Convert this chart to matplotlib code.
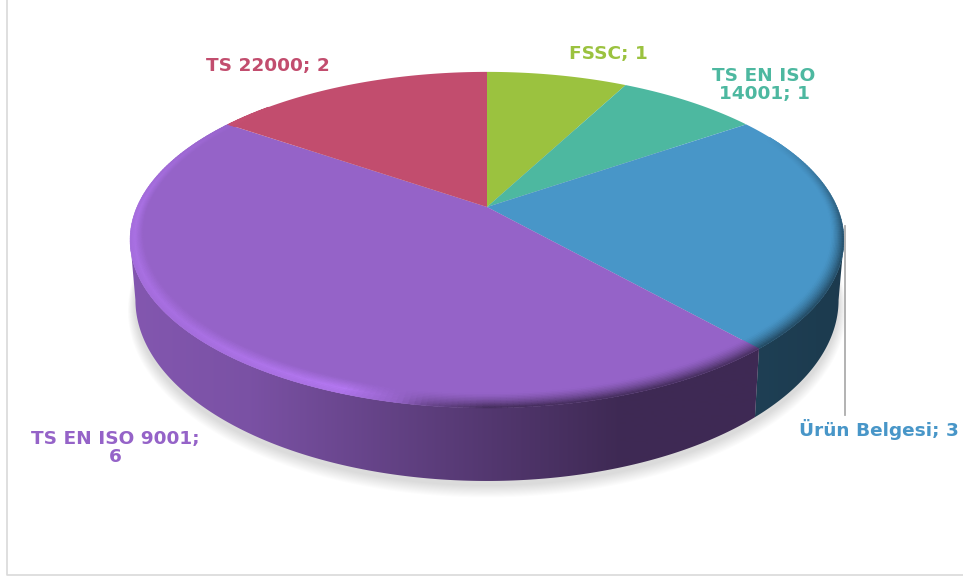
# coding=utf-8
import numpy as np
import matplotlib
matplotlib.use("Agg")
import matplotlib.pyplot as plt
from matplotlib.collections import PolyCollection
from matplotlib.patches import Polygon

names = ["FSSC", "TS EN ISO 14001", "Ürün Belgesi", "TS EN ISO 9001", "TS 22000"]
counts = [1, 1, 3, 6, 2]
colors = ["#9BC23F", "#4DB8A0", "#4896C8", "#9563C8", "#C24D6E"]
label_text = ["FSSC; 1", "TS EN ISO\n14001; 1", "Ürün Belgesi; 3", "TS EN ISO 9001;\n6", "TS 22000; 2"]
label_xy = [(608, 54), (764, 85), (879, 429), (115, 448), (268, 66)]

# perspective of the disc
CX, CY = 487, 207
R, B, K = 350, 161.6, 0.196
SIDE_FROM, SIDE_TO = np.radians(101.3), np.radians(258.7)


def top_xy(theta, r=1.0):
    u = r * np.sin(theta)
    v = r * np.cos(theta)
    d = 1 + K * v
    return CX + R * u / d, CY - B * v / d


def bottom_xy(theta):
    x, y = top_xy(theta)
    return CX + (x - CX) * 0.985, CY + 57.5 + (y - CY) * 1.077


def rgb(c):
    return np.array(matplotlib.colors.to_rgb(c))


def side_shade(x):
    return np.interp(x, [130, 250, 450, 620, 760, 845], [0.88, 0.82, 0.6, 0.42, 0.42, 0.39])


def rim_amount(deg):
    return np.interp(deg, [0, 62, 85, 100, 180, 188, 200, 230, 270, 300, 315, 360],
                     [0, 0, -0.5, -0.8, -0.95, -0.5, 0.95, 0.6, 0.65, 0.2, 0, 0])


def rim_profile(t, amt):
    # the highlight peaks inside the band, the dark edge grows outwards
    if amt > 0:
        return np.interp(t, [0, 0.65, 1], [0, 1, 0.75])
    return t ** 1.5


def rim_radius(theta, t):
    inner = 1 - 0.03 - 0.03 * np.clip(-np.cos(theta), 0, 1)
    return inner + t * (1 - inner)


fig = plt.figure(figsize=(9.63, 5.79), dpi=100)
ax = fig.add_axes([0, 0, 1, 1])
ax.axis("off")

# chart frame
ax.plot([7, 7, 963], [0, 575, 575], color="#D9D9D9", lw=1.2, zorder=1)

# soft shadow under the disc
circle = np.linspace(0, 2 * np.pi, 361)
bx, by = bottom_xy(circle)
for i in range(12):
    grow = 1 + (12 - i) * 0.0018
    sx = CX + (bx - CX) * grow
    sy = by + 4 + (by - by.mean()) * (grow - 1) * 1.5 + (12 - i) * 0.5
    ax.fill(sx, sy, color="#000000", alpha=0.011, lw=0, zorder=2)

edges = np.cumsum([0] + counts) / sum(counts) * 2 * np.pi

# sides, shaded left to right
xs = np.linspace(125, 850, 726)
for c, t0, t1 in zip(colors, edges[:-1], edges[1:]):
    a0, a1 = max(t0, SIDE_FROM), min(t1, SIDE_TO)
    if a1 <= a0:
        continue
    base = rgb(c)
    th = np.linspace(a0, a1, 200)
    tx, ty = top_xy(th)
    lx, ly = bottom_xy(th)
    strip = np.clip(base[None, None, :] * side_shade(xs)[None, :, None], 0, 1)
    img = ax.imshow(strip, extent=(125, 850, 500, 60), aspect="auto", interpolation="bilinear", zorder=3)
    poly = Polygon(np.c_[np.r_[tx, lx[::-1]], np.r_[ty, ly[::-1]]], transform=ax.transData)
    img.set_clip_path(poly)

ax.set_xlim(0, 963)
ax.set_ylim(579, 0)

# top of the disc
for c, t0, t1 in zip(colors, edges[:-1], edges[1:]):
    th = np.linspace(t0, t1, 120)
    tx, ty = top_xy(th)
    ax.fill(np.r_[CX, tx], np.r_[CY, ty], color=c, lw=0, zorder=4)

# bevel round the front edge
for c, t0, t1 in zip(colors, edges[:-1], edges[1:]):
    base = rgb(c)
    th = np.linspace(t0, t1, max(int((t1 - t0) * 70), 4))
    steps = np.linspace(0, 1, 11)
    quads = []
    cols = []
    for j in range(len(steps) - 1):
        t = (j + 0.5) / (len(steps) - 1)
        for i in range(len(th) - 1):
            amt = rim_amount(np.degrees((th[i] + th[i + 1]) / 2))
            if amt == 0:
                continue
            x0, y0 = top_xy(th[i], rim_radius(th[i], steps[j]))
            x1, y1 = top_xy(th[i + 1], rim_radius(th[i + 1], steps[j]))
            x2, y2 = top_xy(th[i + 1], rim_radius(th[i + 1], steps[j + 1]))
            x3, y3 = top_xy(th[i], rim_radius(th[i], steps[j + 1]))
            quads.append([(x0, y0), (x1, y1), (x2, y2), (x3, y3)])
            target = base * 1.22 if amt > 0 else base * 0.4
            cols.append(np.clip(base + (target - base) * abs(amt) * rim_profile(t, amt), 0, 1))
    ax.add_collection(PolyCollection(quads, facecolors=cols, edgecolors=cols, linewidths=0.4, zorder=5))

# leader line of the blue slice
ax.plot([844.5, 844.5], [226, 415], color="#ADADAD", lw=1.3, zorder=6)

for txt, (lbx, lby), c in zip(label_text, label_xy, colors):
    ax.text(lbx, lby, txt, color=c, fontsize=13.3, fontweight="bold", family="DejaVu Sans",
            ha="center", va="center", linespacing=1.0, zorder=7)

fig.savefig("out.png", dpi=100)
